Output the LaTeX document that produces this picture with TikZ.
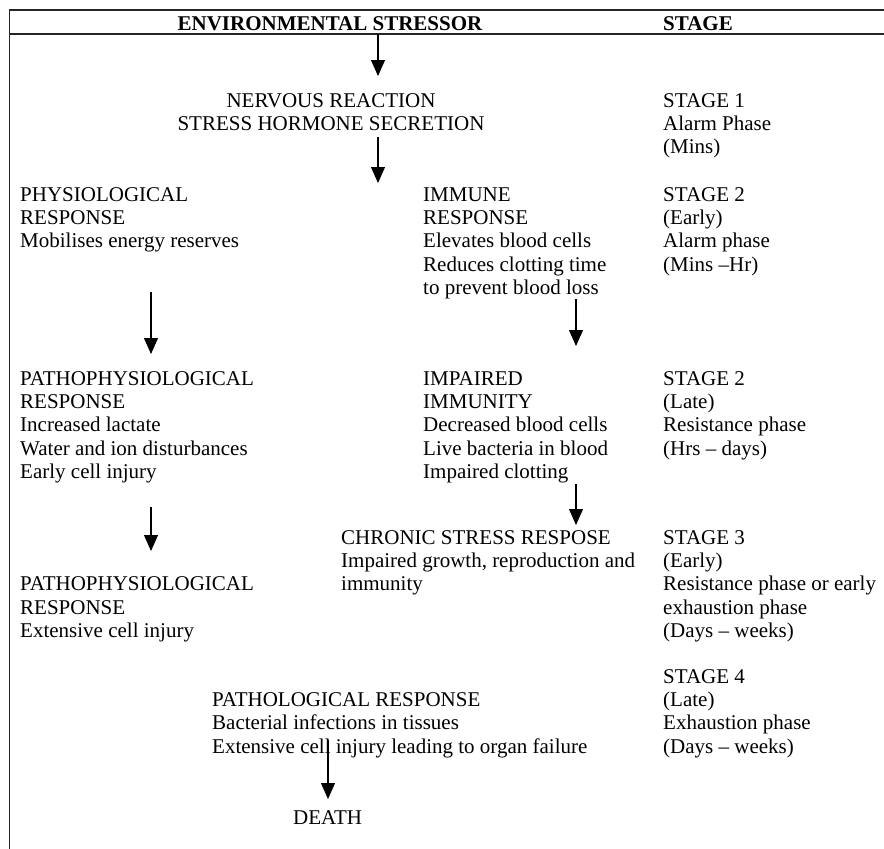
\documentclass[tikz,border=0pt]{standalone}
\usepackage{fontspec}
\setmainfont{Liberation Serif}
\usetikzlibrary{arrows.meta}
\begin{document}
\begin{tikzpicture}[x=1pt,y=-1pt,
  txt/.style={anchor=base west,inner sep=0pt,align=left,font=\fontsize{21}{23.4}\selectfont},
  head/.style={txt,font=\bfseries\fontsize{21}{23.4}\selectfont},
  flow/.style={line width=1.1pt,-{Triangle[width=14pt,length=16pt]}},
  rule/.style={line width=1.6pt,draw=black!85}]
\useasboundingbox (0,0) rectangle (884,849);
\draw[rule] (9.5,849) -- (9.5,10) -- (884,10);
\draw[rule] (9.5,34) -- (884,34);
\node[head,anchor=base] (stressor) at (330,30) {ENVIRONMENTAL STRESSOR};
\node[head] (stagehead) at (663,30) {STAGE};
\node[txt,anchor=base,align=center] (nervous) at (331,130.4) {NERVOUS REACTION\\STRESS HORMONE SECRETION};
\node[txt] (stage1) at (663,153.8) {STAGE 1\\Alarm Phase\\(Mins)};
\node[txt] (physio) at (20,247.8) {PHYSIOLOGICAL\\RESPONSE\\Mobilises energy reserves};
\node[txt] (immune) at (423,294.6) {IMMUNE\\RESPONSE\\Elevates blood cells\\Reduces clotting time\\to prevent blood loss};
\node[txt] (stage2a) at (663,271.2) {STAGE 2\\(Early)\\Alarm phase\\(Mins –Hr)};
\node[txt] (patho) at (20,478.6) {PATHOPHYSIOLOGICAL\\RESPONSE\\Increased lactate\\Water and ion disturbances\\Early cell injury};
\node[txt] (impaired) at (423,478.6) {IMPAIRED\\IMMUNITY\\Decreased blood cells\\Live bacteria in blood\\Impaired clotting};
\node[txt] (stage2b) at (663,455.2) {STAGE 2\\(Late)\\Resistance phase\\(Hrs – days)};
\node[txt] (chronic) at (341,590.8) {CHRONIC STRESS RESPOSE\\Impaired growth, reproduction and\\immunity};
\node[txt] (stage3) at (663,637.6) {STAGE 3\\(Early)\\Resistance phase or early\\exhaustion phase\\(Days – weeks)};
\node[txt] (pathoext) at (20,637.6) {PATHOPHYSIOLOGICAL\\RESPONSE\\Extensive cell injury};
\node[txt] (stage4) at (663,753.2) {STAGE 4\\(Late)\\Exhaustion phase\\(Days – weeks)};
\node[txt] (patholog) at (212,753.2) {PATHOLOGICAL RESPONSE\\Bacterial infections in tissues\\Extensive cell injury leading to organ failure};
\node[txt] (death) at (293,824) {DEATH};
\coordinate (s1) at (378,34);
\coordinate (e1) at (378,76);
\coordinate (s2) at (378,137);
\coordinate (e2) at (378,183);
\coordinate (s3) at (151,292);
\coordinate (e3) at (151,354);
\coordinate (s4) at (576,299);
\coordinate (e4) at (576,346);
\coordinate (s5) at (576,484);
\coordinate (e5) at (576,525);
\coordinate (s6) at (151,507);
\coordinate (e6) at (151,551);
\coordinate (s7) at (328,740);
\coordinate (e7) at (328,799);
\draw[flow] (s1) -- (e1);
\draw[flow] (s2) -- (e2);
\draw[flow] (s3) -- (e3);
\draw[flow] (s4) -- (e4);
\draw[flow] (s5) -- (e5);
\draw[flow] (s6) -- (e6);
\draw[flow] (s7) -- (e7);
\end{tikzpicture}
\end{document}
